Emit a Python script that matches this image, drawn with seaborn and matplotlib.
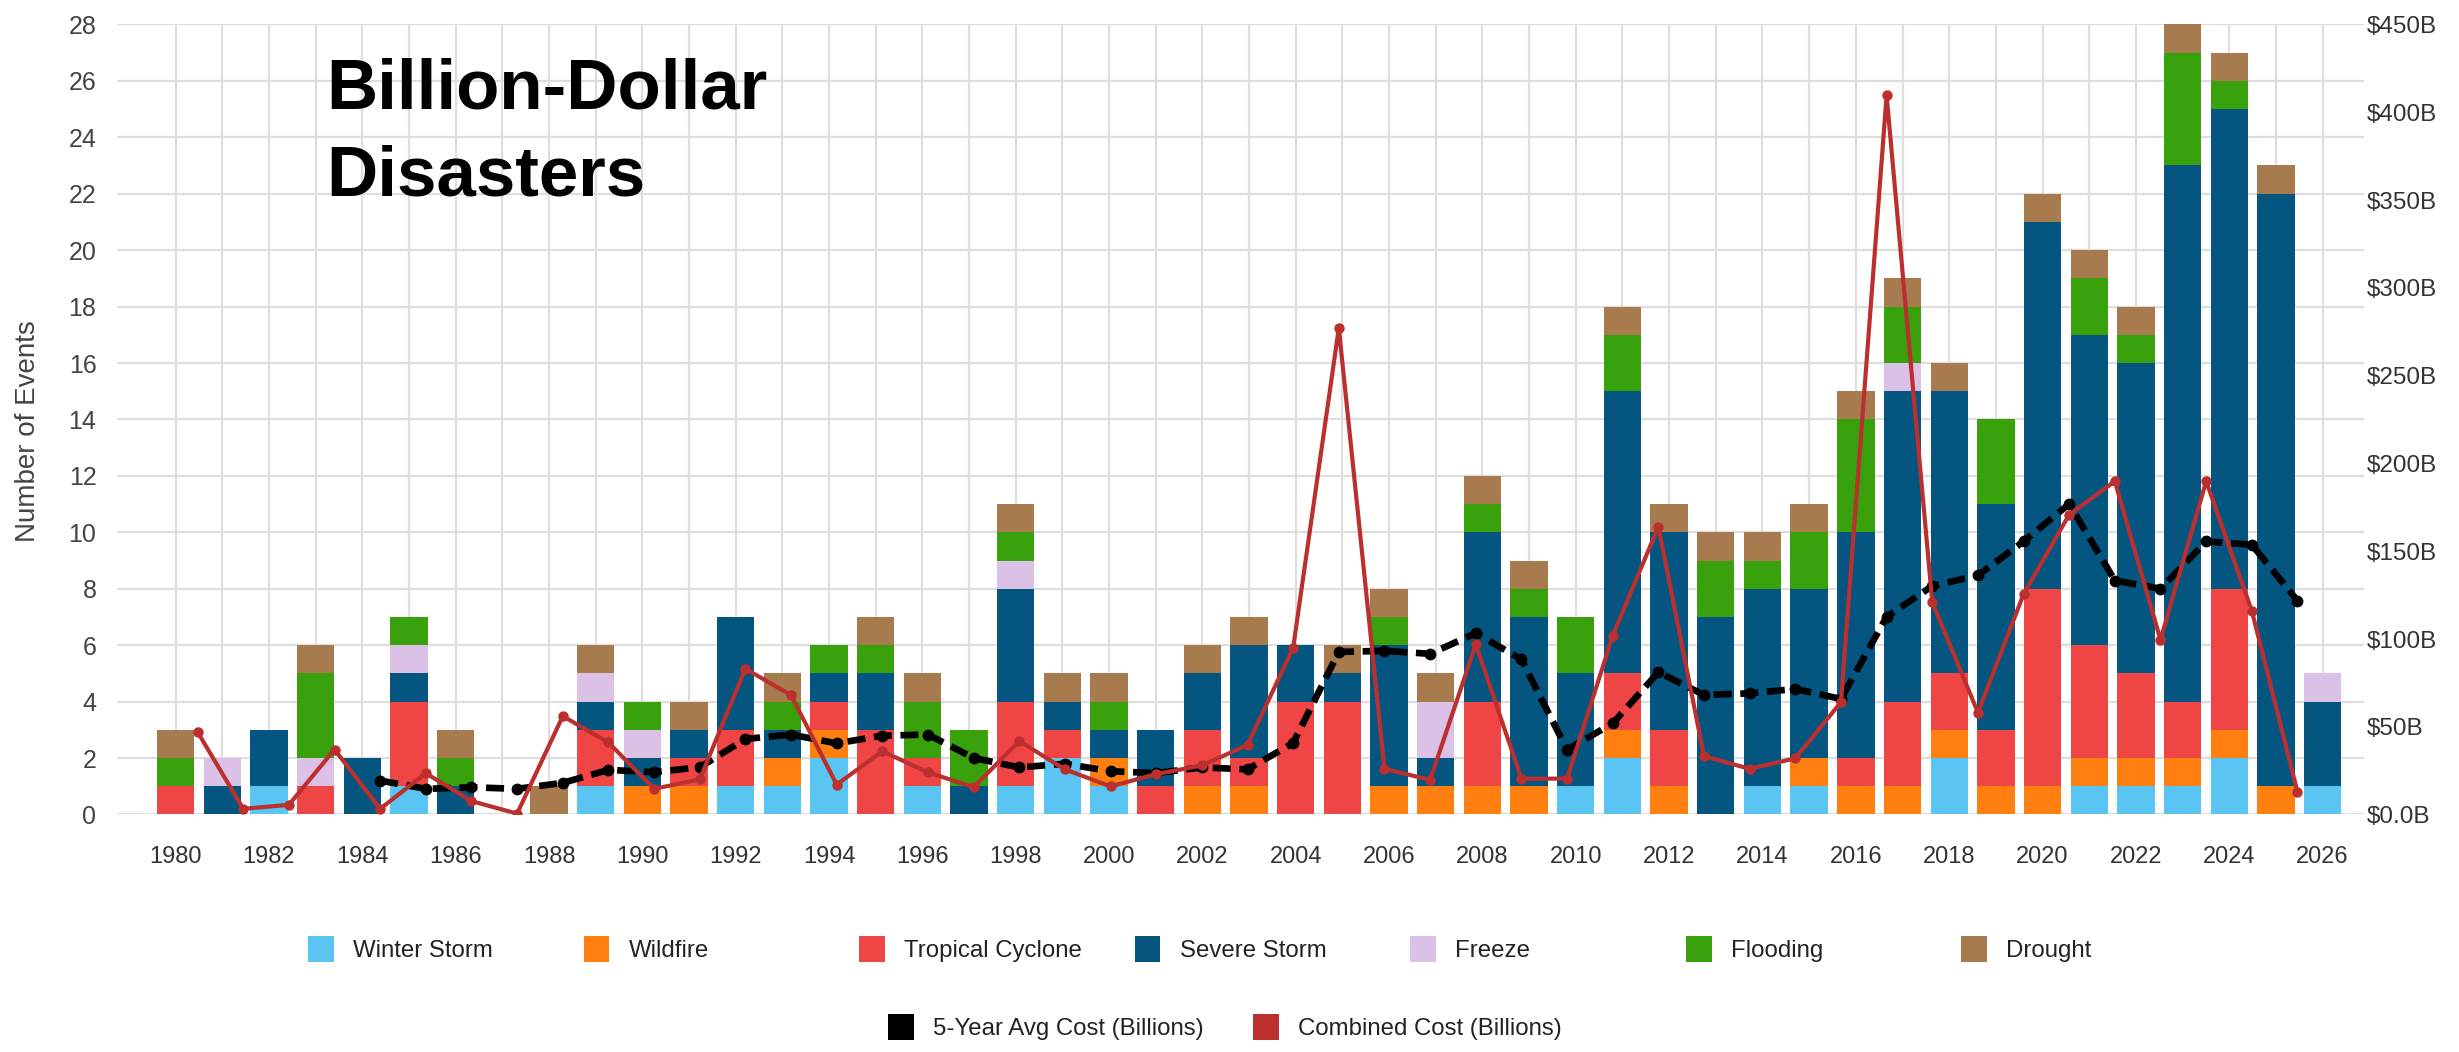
import pandas as pd
import matplotlib
matplotlib.use('Agg')
import matplotlib.pyplot as plt
import seaborn as sns
from matplotlib.patches import Patch

# Event counts per year (1980 - 2026)
years = list(range(1980, 2027))
winter_storm = [0, 0, 1, 0, 0, 1, 0, 0, 0, 1,
                0, 0, 1, 1, 2, 0, 1, 0, 1, 2,
                1, 0, 0, 0, 0, 0, 0, 0, 0, 0,
                1, 2, 0, 0, 1, 1, 0, 0, 2, 0,
                0, 1, 1, 1, 2, 0, 1]
wildfire = [0, 0, 0, 0, 0, 0, 0, 0, 0, 0,
            1, 1, 0, 1, 1, 0, 0, 0, 0, 0,
            1, 0, 1, 1, 0, 0, 1, 1, 1, 1,
            0, 1, 1, 0, 0, 1, 1, 1, 1, 1,
            1, 1, 1, 1, 1, 1, 0]
tropical_cyclone = [1, 0, 0, 1, 0, 3, 0, 0, 0, 2,
                    0, 1, 2, 0, 1, 3, 1, 0, 3, 1,
                    0, 1, 2, 1, 4, 4, 0, 0, 3, 0,
                    0, 2, 2, 0, 0, 0, 1, 3, 2, 2,
                    7, 4, 3, 2, 5, 0, 0]
severe_storm = [0, 1, 2, 0, 2, 1, 1, 0, 0, 1,
                1, 1, 4, 1, 1, 2, 0, 1, 4, 1,
                1, 2, 2, 4, 2, 1, 5, 1, 6, 6,
                4, 10, 7, 7, 7, 6, 8, 11, 10, 8,
                13, 11, 11, 19, 17, 21, 3]
freeze = [0, 1, 0, 1, 0, 1, 0, 0, 0, 1,
          1, 0, 0, 0, 0, 0, 0, 0, 1, 0,
          0, 0, 0, 0, 0, 0, 0, 2, 0, 0,
          0, 0, 0, 0, 0, 0, 0, 1, 0, 0,
          0, 0, 0, 0, 0, 0, 1]
flooding = [1, 0, 0, 3, 0, 1, 1, 0, 0, 0,
            1, 0, 0, 1, 1, 1, 2, 2, 1, 0,
            1, 0, 0, 0, 0, 0, 1, 0, 1, 1,
            2, 2, 0, 2, 1, 2, 4, 2, 0, 3,
            0, 2, 1, 4, 1, 0, 0]
drought = [1, 0, 0, 1, 0, 0, 1, 0, 1, 1,
           0, 1, 0, 1, 0, 1, 1, 0, 1, 1,
           1, 0, 1, 1, 0, 1, 1, 1, 1, 1,
           0, 1, 1, 1, 1, 1, 1, 1, 1, 0,
           1, 1, 1, 1, 1, 1, 0]

# Costs in billions
combined_cost = [47, 3.2, 5.5, 37, 3.2, 23.5, 7.6, 0.5, 56, 41,
                 14.6, 20, 83, 68, 17, 36, 24, 15.5, 41.8, 25.7,
                 16, 23, 27.9, 39.6, 95, 277, 26, 19.7, 96.9, 20.4,
                 20.4, 101.8, 164, 33.2, 26, 32, 64, 409.6, 121, 58,
                 125.5, 170.8, 189.8, 99.5, 189.8, 116, 12.9]
avg_years = list(range(1984, 2027))
avg_cost = [19.3, 14.6, 15.5, 14.6, 18, 25.4,
            24.1, 26.9, 43, 45.5, 40.5, 44.9, 45.5, 32.2, 26.8, 28.9,
            24.6, 23.6, 26.8, 25.7, 40.7, 92.6, 93.2, 91.5, 103.3, 88.3,
            36.9, 51.9, 81, 68.1, 69, 71.5, 65.8, 112.6, 130.1, 136.2,
            155.5, 176.9, 133.2, 128.6, 155.5, 153.7, 121.8]

categories = ['Winter Storm', 'Wildfire', 'Tropical Cyclone', 'Severe Storm',
              'Freeze', 'Flooding', 'Drought']
colors = ['#5AC5F2', '#FF8011', '#EF4545', '#04557F', '#DBC1E6', '#38A10B', '#A87B4F']
cost_ticks = [0, 50, 100, 150, 200, 250, 300, 350, 400, 450]
cost_labels = ['$0.0B', '$50B', '$100B', '$150B', '$200B', '$250B',
               '$300B', '$350B', '$400B', '$450B']

counts = pd.DataFrame({'year': years, 'Winter Storm': winter_storm, 'Wildfire': wildfire,
                       'Tropical Cyclone': tropical_cyclone, 'Severe Storm': severe_storm,
                       'Freeze': freeze, 'Flooding': flooding, 'Drought': drought})
stacked = counts[categories].cumsum(axis=1)

sns.set_style('white')
plt.rcParams['font.family'] = ['Liberation Sans', 'DejaVu Sans']

W, H = 2459, 1052
fig = plt.figure(figsize=((W + 0.1) / 100, (H + 0.1) / 100), dpi=100)
rect = [117 / W, 1 - 814.5 / H, (2364 - 117) / W, (814.5 - 24.5) / H]
ax = fig.add_axes(rect)

# Stacked bars: draw the full stack first, then each lower segment on top of it
for cat, col in reversed(list(zip(categories, colors))):
    sns.barplot(x=counts['year'], y=stacked[cat], color=col, width=0.8, saturation=1,
                linewidth=0, errorbar=None, ax=ax, zorder=2)

ax.set_xlim(-1.256, 46.89)
ax.set_ylim(0, 28)
ax.set_xticks(range(0, 47, 2))
ax.set_xticklabels([str(y) for y in years[::2]])
ax.set_xticks(range(47), minor=True)
ax.set_yticks(range(0, 29, 2))
ax.set_axisbelow(True)
ax.grid(True, which='both', axis='x', color='#dedede', lw=1.6)
ax.grid(True, which='major', axis='y', color='#dedede', lw=1.6)
ax.tick_params(axis='x', which='major', length=8.6, width=1, color='#777', pad=14,
               labelsize=17, labelcolor='#333')
ax.tick_params(axis='x', which='minor', length=0)
ax.tick_params(axis='y', length=5.8, width=1.3, color='#999', pad=9,
               labelsize=18, labelcolor='#444')
for s in ax.spines.values():
    s.set_visible(False)
ax.set_xlabel('')
ax.set_ylabel('Number of Events', fontsize=20, color='#444')
ax.yaxis.set_label_coords(-0.034, 0.485)

# Cost lines sit on their own category scale, overlaid on the bars
ax2 = fig.add_axes(rect)
ax2.patch.set_visible(False)
sns.lineplot(x=[y - 1980 for y in years], y=combined_cost, ax=ax2, color='#BB2F2F', lw=3,
             marker='o', markersize=7.5, markeredgewidth=0, zorder=4)
sns.lineplot(x=[y - 1980 for y in avg_years], y=avg_cost, ax=ax2, color='black', lw=4.8,
             linestyle=(0, (2.7, 1.3)), marker='o', markersize=8.5, markeredgewidth=0, zorder=3)
ax2.set_xlim(-1.765, 47.46)
ax2.set_ylim(0, 450)
ax2.set_xticks([])
ax2.yaxis.tick_right()
ax2.set_yticks(cost_ticks)
ax2.set_yticklabels(cost_labels)
ax2.tick_params(axis='y', length=0, pad=2, labelsize=17.5, labelcolor='#333')
ax2.set_xlabel('')
ax2.set_ylabel('')
for s in ax2.spines.values():
    s.set_visible(False)

# Title inside the plot
fig.text(326 / W, 1 - 57 / H, 'Billion-Dollar\nDisasters', fontsize=51, fontweight='bold',
         va='top', ha='left', linespacing=1.42, color='black')

# Legends with fixed spacing
legend_font = {'size': 17.3}
row1 = [(cat, col, 308 + 275.5 * i) for i, (cat, col) in enumerate(zip(categories, colors))]
row2 = [('5-Year Avg Cost (Billions)', 'black', 888), ('Combined Cost (Billions)', '#BB2F2F', 1253)]
for items, yc in [(row1, 949), (row2, 1027)]:
    for label, col, x0 in items:
        fig.legend(handles=[Patch(facecolor=col, edgecolor='none')], labels=[label],
                   loc='center left', bbox_to_anchor=(x0 / W, 1 - yc / H), frameon=False,
                   borderpad=0, borderaxespad=0, handlelength=1.08, handleheight=1.3,
                   handletextpad=0.8, prop=legend_font, labelcolor='#222')

fig.savefig('out.png', dpi=100)
